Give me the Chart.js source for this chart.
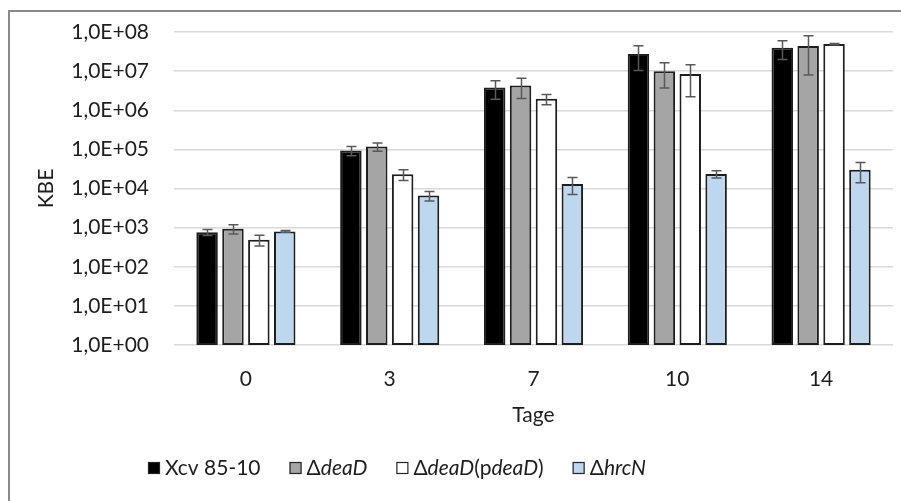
<!DOCTYPE html>
<html><head><meta charset="utf-8">
<script src="https://cdn.jsdelivr.net/npm/chart.js@4/dist/chart.umd.min.js"></script>
<style>html,body{margin:0;padding:0;background:#fff}#wrap{width:901px;height:501px}</style>
</head><body><div id="wrap"><canvas id="c" width="901" height="501"></canvas></div>
<script>
const categories = ['0', '3', '7', '10', '14'];
const seriesNames = ['Xcv 85-10', 'ΔdeaD', 'ΔdeaD(pdeaD)', 'ΔhrcN'];
const xcv = [7.6e2, 9.4e4, 3.8e6, 2.74e7, 3.97e7];
const deaD = [9.4e2, 1.18e5, 4.3e6, 1.0e7, 4.4e7];
const deaDp = [4.9e2, 2.3e4, 1.96e6, 8.4e6, 4.9e7];
const hrcN = [8.0e2, 6.6e3, 1.3e4, 2.35e4, 3.0e4];
const xcvSd = [1.3e2, 2.5e4, 1.9e6, 1.7e7, 2.0e7];
const deaDSd = [2.5e2, 2.8e4, 2.3e6, 6.3e6, 3.6e7];
const deaDpSd = [1.5e2, 7e3, 5.8e5, 6.2e6, 2e6];
const hrcNSd = [4e1, 1.8e3, 6e3, 5e3, 1.6e4];
const tickLabels = ['1,0E+00','1,0E+01','1,0E+02','1,0E+03','1,0E+04','1,0E+05','1,0E+06','1,0E+07','1,0E+08'];
// legend text parts: [text, italic]
const legendParts = [
  [['Xcv 85-10', false]],
  [['Δ', false], ['deaD', true]],
  [['Δ', false], ['deaD', true], ['(p', false], ['deaD', true], [')', false]],
  [['Δ', false], ['hrcN', true]]
];

const FONT = 'Lato';
const FS = 21;
const TXT = '#1e1e1e';
const fills = ['#000000', '#a5a5a5', '#ffffff', '#bdd7ee'];
const sds = [xcvSd, deaDSd, deaDpSd, hrcNSd];

const frame = {
  id: 'frame',
  beforeDraw(chart) {
    const ctx = chart.ctx;
    ctx.save();
    ctx.fillStyle = '#fff';
    ctx.fillRect(0, 0, chart.width, chart.height);
    ctx.strokeStyle = '#8a8a8a';
    ctx.lineWidth = 2;
    ctx.beginPath();
    ctx.moveTo(9, 501); ctx.lineTo(9, 11); ctx.lineTo(901, 11);
    ctx.stroke();
    ctx.restore();
  }
};

const errorBars = {
  id: 'errorBars',
  afterDatasetsDraw(chart) {
    const ctx = chart.ctx, ys = chart.scales.y;
    ctx.save();
    ctx.strokeStyle = '#595959';
    ctx.lineWidth = 1.5;
    chart.data.datasets.forEach((ds, i) => {
      const meta = chart.getDatasetMeta(i);
      meta.data.forEach((bar, j) => {
        const v = ds.data[j], sd = sds[i][j];
        const yh = ys.getPixelForValue(v + sd);
        const yl = ys.getPixelForValue(Math.max(v - sd, 1));
        const x = Math.round(bar.x) + 0.5;
        ctx.beginPath();
        ctx.moveTo(x, yh); ctx.lineTo(x, yl);
        ctx.moveTo(x - 5, yh); ctx.lineTo(x + 5, yh);
        ctx.moveTo(x - 5, yl); ctx.lineTo(x + 5, yl);
        ctx.stroke();
      });
    });
    ctx.restore();
  }
};

const customLegend = {
  id: 'customLegend',
  afterDraw(chart) {
    const ctx = chart.ctx;
    ctx.save();
    const yc = 468;
    let x = 148;
    ctx.textBaseline = 'middle';
    legendParts.forEach((parts, i) => {
      ctx.fillStyle = fills[i];
      ctx.fillRect(x, yc - 6, 12, 12);
      ctx.strokeStyle = '#262626';
      ctx.lineWidth = 1.2;
      ctx.strokeRect(x + 0.5, yc - 5.5, 11, 11);
      x += 17;
      ctx.fillStyle = TXT;
      parts.forEach(([t, it]) => {
        ctx.font = (it ? 'italic ' : '') + FS + 'px ' + FONT;
        ctx.fillText(t, x, yc);
        x += ctx.measureText(t).width;
      });
      x += 29;
    });
    ctx.restore();
  }
};

const datasets = [xcv, deaD, deaDp, hrcN].map((d, i) => ({
  label: seriesNames[i],
  data: d,
  backgroundColor: fills[i],
  borderColor: '#1e1e1e',
  borderWidth: 2,
  borderSkipped: false,
  categoryPercentage: 0.72,
  barPercentage: 0.83
}));

new Chart(document.getElementById('c'), {
  type: 'bar',
  data: { labels: categories, datasets },
  options: {
    responsive: false,
    animation: false,
    layout: { padding: { left: 10, top: 32, right: 8, bottom: 69 } },
    plugins: { legend: { display: false }, tooltip: { enabled: false } },
    scales: {
      x: {
        grid: { display: false, drawTicks: false },
        border: { display: false },
        ticks: { color: TXT, font: { family: FONT, size: FS }, padding: 22 },
        title: { display: true, text: 'Tage', color: TXT, font: { family: FONT, size: FS }, padding: { top: 0, bottom: 4 } },
        afterFit(s) { s.height = 87; s.paddingLeft = 0; s.paddingRight = 0; }
      },
      y: {
        type: 'logarithmic',
        min: 1, max: 1e8,
        grid: { color: '#d9d9d9', lineWidth: 1.5, drawTicks: false },
        border: { display: false },
        ticks: {
          color: TXT, font: { family: FONT, size: FS }, padding: 25,
          callback: (v) => tickLabels[Math.round(Math.log10(v))]
        },
        afterBuildTicks(s) { s.ticks = tickLabels.map((_, e) => ({ value: Math.pow(10, e) })); },
        title: { display: true, text: 'KBE', color: TXT, font: { family: FONT, size: FS }, padding: { top: 24, bottom: 0 } },
        afterFit(s) { s.width = 164; s.paddingTop = 0; s.paddingBottom = 0; }
      }
    }
  },
  plugins: [frame, errorBars, customLegend]
});
</script>
</body></html>
